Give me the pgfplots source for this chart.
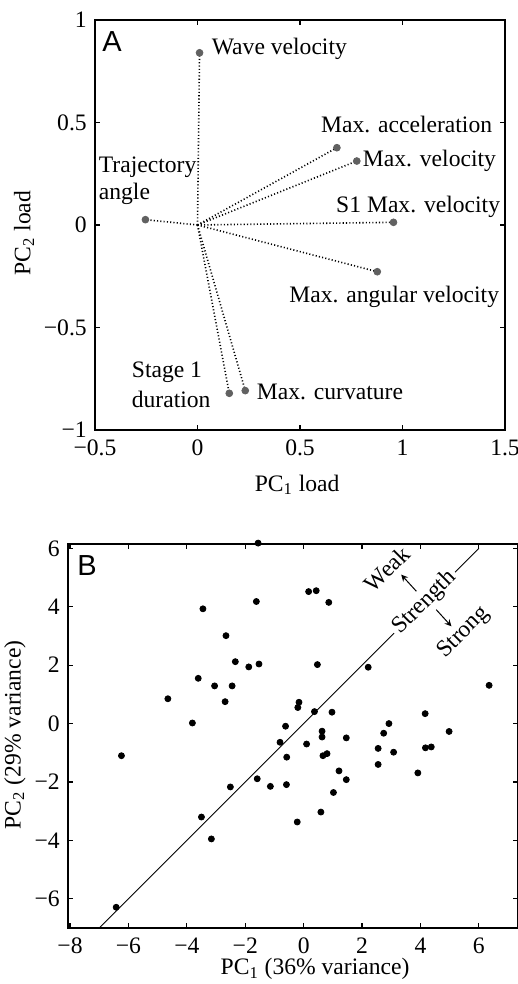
\documentclass[border=0pt]{standalone}
\usepackage{fontspec}
\setmainfont{Liberation Serif}
\newfontfamily\panelfont{Liberation Sans}
\usepackage{pgfplots}
\usepackage{pgfplotstable}
\pgfplotsset{compat=1.18}

% PCA loadings (panel A)
\pgfplotstableread{
x      y
0.010  0.840
0.680  0.377
0.777  0.312
0.956  0.013
0.877 -0.228
0.233 -0.808
0.155 -0.821
-0.254 0.026
}\loadings

% PCA scores (panel B)
\pgfplotstableread{
x      y
-1.56  6.18
-1.62  4.18
-3.45  3.93
0.17   4.52
0.43   4.55
0.86   4.15
-2.66  3.01
-2.34  2.12
-1.88  1.94
-1.53  2.04
0.47   2.02
2.21   1.93
-3.61  1.55
-3.05  1.29
-2.45  1.29
-4.65  0.85
-2.69  0.75
-0.16  0.73
-0.20  0.55
0.37   0.41
0.97   0.39
-3.81  0.02
-0.62 -0.09
0.63  -0.26
0.63  -0.46
1.46  -0.49
-0.81 -0.64
0.10  -0.70
2.92   0.00
2.74  -0.33
4.16   0.34
4.98  -0.27
6.35   1.31
2.55  -0.85
3.08  -0.98
4.17  -0.83
4.37  -0.80
2.55  -1.40
3.91  -1.69
-6.24 -1.10
-0.58 -1.15
0.66  -1.10
0.80  -1.03
1.21  -1.62
1.46  -1.92
-1.59 -1.89
-1.14 -2.15
-0.59 -2.09
-2.51 -2.17
1.02  -2.36
-3.50 -3.20
0.59  -3.03
-0.22 -3.37
-3.16 -3.95
-6.42 -6.29
}\scores

\pgfplotsset{
  every axis/.append style={
    scale only axis,
    axis line style={line width=0.8pt, black},
    tick style={line width=0.6pt, black},
    major tick length=2.5pt,
    tick align=inside,
    font=\fontsize{11.8}{14}\selectfont,
    xticklabel style={yshift=-1pt},
    ylabel style={anchor=center},
  },
}

\begin{document}
\fontsize{11.8}{14}\selectfont
\begin{tikzpicture}
\path[use as bounding box] (0,0) rectangle (259pt,492pt);

% ---------- panel A ----------
\begin{axis}[
  at={(47.5pt,277pt)}, anchor=south west,
  width=205pt, height=205pt,
  xmin=-0.5, xmax=1.5, ymin=-1, ymax=1,
  xtick={-0.5,0,0.5,1,1.5}, xticklabels={−0.5,0,0.5,1,1.5},
  ytick={-1,-0.5,0,0.5,1}, yticklabels={−1,−0.5,0,0.5,1},
  xlabel={PC\textsubscript{1} load},
  ylabel={PC\textsubscript{2} load},
  xlabel style={at={(axis description cs:0.493,-0.149)}, anchor=base},
  ylabel style={at={(axis description cs:-0.173,0.48)}},
]
\pgfplotsset{load line/.style={black, line width=0.8pt, dash pattern=on 0.55pt off 1.1pt, forget plot}}
\addplot[load line] coordinates {(0,0) (0.010,0.840)};
\addplot[load line] coordinates {(0,0) (0.680,0.377)};
\addplot[load line] coordinates {(0,0) (0.777,0.312)};
\addplot[load line] coordinates {(0,0) (0.956,0.013)};
\addplot[load line] coordinates {(0,0) (0.877,-0.228)};
\addplot[load line] coordinates {(0,0) (0.233,-0.808)};
\addplot[load line] coordinates {(0,0) (0.155,-0.821)};
\addplot[load line] coordinates {(0,0) (-0.254,0.026)};
\addplot[only marks, mark=*, mark size=1.7pt, color=black!62] table {\loadings};

\begin{scope}[every node/.style={inner sep=0pt}]
\node[anchor=base west, font=\panelfont\fontsize{14.5}{15}\selectfont] at (axis description cs:0.017,0.924) {A};
\node[anchor=base west] at (axis cs:0.068,0.834) {Wave velocity};
\node[anchor=base east] at (axis cs:1.439,0.449) {Max. acceleration};
\node[anchor=base west] at (axis cs:0.805,0.283) {Max. velocity};
\node[anchor=base east] at (axis cs:1.478,0.059) {S1 Max. velocity};
\node[anchor=base east] at (axis cs:1.473,-0.376) {Max. angular velocity};
\node[anchor=base west] at (axis cs:0.288,-0.849) {Max. curvature};
\node[anchor=base west] at (axis cs:-0.322,-0.746) {Stage 1};
\node[anchor=base west] at (axis cs:-0.322,-0.888) {duration};
\node[anchor=base west] at (axis cs:-0.483,0.254) {Trajectory};
\node[anchor=base west] at (axis cs:-0.483,0.122) {angle};
\end{scope}
\end{axis}

% ---------- panel B ----------
\begin{axis}[
  at={(34pt,28pt)}, anchor=south west,
  width=225pt, height=192pt,
  xmin=-8.07, xmax=7.34, ymin=-7, ymax=6.15,
  clip=false,
  xtick={-8,-6,-4,-2,0,2,4,6}, xticklabels={−8,−6,−4,−2,0,2,4,6},
  ytick={-6,-4,-2,0,2,4,6}, yticklabels={−6,−4,−2,0,2,4,6},
  xlabel={PC\textsubscript{1} (36\% variance)},
  ylabel={PC\textsubscript{2} (29\% variance)},
  xlabel style={at={(axis description cs:0.549,-0.122)}, anchor=base},
  ylabel style={at={(axis description cs:-0.118,0.503)}},
]
\addplot[black, line width=0.5pt] coordinates {(-7,-7) (6,6)};
\node[rotate=45, fill=white, inner sep=1.5pt] at (axis cs:4.14,4.14) {Strength};
\node[rotate=45, inner sep=0pt] at (axis cs:2.85,5.30) {Weak};
\node[rotate=45, inner sep=0pt] at (axis cs:5.48,3.11) {Strong};
\draw[-stealth, line width=0.5pt] (axis cs:3.86,4.53) -- (axis cs:3.34,5.10);
\draw[-stealth, line width=0.5pt] (axis cs:4.54,3.90) -- (axis cs:5.06,3.33);
\addplot[only marks, mark=*, mark size=1.5pt, color=black] table {\scores};
\node[anchor=base west, inner sep=0pt, font=\panelfont\fontsize{14.5}{15}\selectfont] at (axis description cs:0.02,0.918) {B};
\end{axis}
\end{tikzpicture}
\end{document}
